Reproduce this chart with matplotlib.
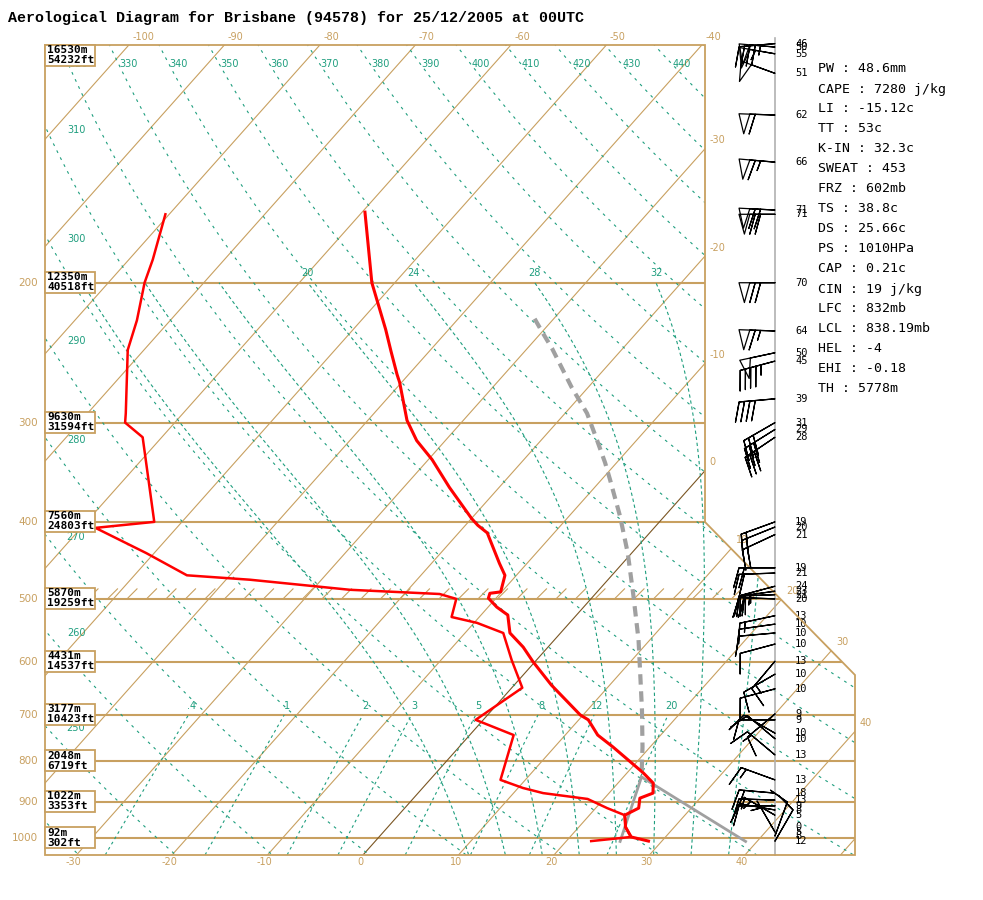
import numpy as np
import matplotlib
matplotlib.use("Agg")
import matplotlib.pyplot as plt
from matplotlib.transforms import Affine2D
from matplotlib.patches import Polygon, Rectangle
from matplotlib.path import Path

title = "Aerological Diagram for Brisbane (94578) for 25/12/2005 at 00UTC"

# sounding (hPa, degC)
temp_p = [163, 200, 229, 244, 261, 267, 298, 316, 334, 362, 396, 404, 413, 451, 467, 490, 492, 499,
          512, 524, 552, 575, 600, 642, 700, 710, 742, 768, 828, 853, 878, 891, 917, 936, 969, 997, 1009]
temp_t = [-59.7, -52.4, -46.6, -44.0, -41.2, -40.2, -35.9, -33.0, -29.6, -25.2, -20.0, -18.7, -17.0,
          -12.9, -11.2, -10.1, -11.1, -10.8, -9.1, -7.2, -5.3, -2.6, -0.2, 3.9, 9.7, 11.0, 13.4, 16.1,
          21.7, 23.7, 24.6, 23.7, 24.5, 23.7, 24.9, 26.4, 28.6]
dew_p = [164, 187, 200, 223, 243, 292, 300, 313, 400, 407, 438, 467, 473, 487, 493, 500, 527, 536,
         552, 597, 647, 710, 742, 845, 865, 878, 893, 917, 936, 969, 997, 1009]
dew_t = [-80.4, -77.5, -76.2, -73.5, -71.7, -66.0, -65.2, -62.0, -52.9, -58.5, -50.8, -44.5, -37.5,
         -26.1, -16.3, -14.1, -12.9, -9.7, -6.0, -2.6, 1.1, -0.8, 4.6, 7.4, 10.5, 13.1, 18.3, 21.2,
         23.7, 24.9, 26.4, 22.6]
parcel_p = [222, 231, 242, 271, 292, 316, 337, 354, 394, 438, 492, 563, 615, 690, 768, 838]
parcel_t = [-32.0, -29.9, -27.4, -21.7, -17.7, -14.1, -11.2, -9.1, -4.6, -0.4, 3.9, 8.8, 11.8,
            15.7, 19.2, 21.9]
sfc_p, sfc_t, sfc_td = 1010, 38.8, 25.66
lcl_p, lcl_t = 838, 21.9

levels = [100, 200, 300, 400, 500, 600, 700, 800, 900, 1000]
level_m = ["16530m", "12350m", "9630m", "7560m", "5870m", "4431m", "3177m", "2048m", "1022m", "92m"]
level_ft = ["54232ft", "40518ft", "31594ft", "24803ft", "19259ft", "14537ft", "10423ft", "6719ft",
            "3353ft", "302ft"]

isotherms = list(range(-140, 70, 10))
theta_vals = list(range(230, 470, 10))
thetaw_vals = [8, 12, 16, 20, 24, 28, 32, 36]
thetaw_labels = [20, 24, 28, 32]
mix_vals = [0.4, 1, 2, 3, 5, 8, 12, 20]
mix_labels = [".4", "1", "2", "3", "5", "8", "12", "20"]

wind_p = [100, 101, 103, 109, 123, 141, 162, 164, 200, 230, 245, 251, 280, 300, 306, 313, 400, 406,
          415, 457, 464, 482, 489, 494, 500, 525, 538, 552, 570, 599, 622, 649, 698, 710, 738, 750,
          786, 845, 878, 896, 911, 922, 936, 969, 983, 994, 1009]
wind_spd = [46, 50, 55, 51, 62, 66, 71, 71, 70, 64, 50, 45, 39, 31, 29, 28, 19, 20, 21, 19, 21, 24,
            23, 21, 20, 13, 10, 10, 10, 13, 10, 10, 9, 9, 10, 10, 13, 13, 18, 13, 9, 8, 5, 0, 5, 8, 12]
wind_dir = [265, 275, 280, 290, 272, 275, 273, 270, 270, 272, 258, 255, 265, 240, 238, 236, 250, 248,
            245, 270, 268, 255, 262, 268, 272, 258, 262, 265, 255, 220, 240, 255, 230, 270, 300, 310,
            310, 290, 275, 272, 270, 280, 300, 0, 330, 20, 30]

stats = ["PW : 48.6mm", "CAPE : 7280 j/kg", "LI : -15.12c", "TT : 53c", "K-IN : 32.3c",
         "SWEAT : 453", "FRZ : 602mb", "TS : 38.8c", "DS : 25.66c", "PS : 1010HPa", "CAP : 0.21c",
         "CIN : 19 j/kg", "LFC : 832mb", "LCL : 838.19mb", "HEL : -4", "EHI : -0.18", "TH : 5778m"]

TAN = "#C8A060"
DARK = "#7A5522"
TEAL = "#1E9E7E"
GREY = "#A0A0A0"
MONO = "DejaVu Sans Mono"

fig = plt.figure(figsize=(9.83, 9.0), dpi=100)
ax = fig.add_axes([0, 0, 1, 1])
ax.set_xlim(0, 983)
ax.set_ylim(900, 0)
ax.axis("off")

# skew-T: (T, ln(p/1000)) -> pixel
skew = Affine2D(np.array([[9.55, -307.05, 378.1], [0.0, 345.0, 838.0], [0.0, 0.0, 1.0]]))
tr = skew + ax.transData


def lp(p):
    return np.log(np.asarray(p, float) / 1000.0)


def px(t, p):
    t = np.atleast_1d(np.asarray(t, float))
    p = np.atleast_1d(np.asarray(p, float))
    return skew.transform(np.column_stack([t, lp(p)]))


frame = [(45, 45), (705, 45), (705, 522), (855, 675), (855, 855), (45, 855)]
clip = Polygon(frame, closed=True, fill=False, edgecolor=TAN, lw=1.3, zorder=5)
ax.add_patch(clip)
frame_path = Path(frame + [frame[0]])

# isobars
for p in levels[1:]:
    y = px(0, p)[0, 1]
    ax.plot([45, 855], [y, y], color=TAN, lw=1.5, clip_path=clip, zorder=2)

# isotherms
for t in isotherms:
    ax.plot([t, t], lp([1050, 100]), transform=tr, color=DARK if t == 0 else TAN,
            lw=0.8, clip_path=clip, zorder=2)

# dry adiabats
pp = np.linspace(100, 1050, 300)
for th in theta_vals:
    tt = th * (pp / 1000.0) ** 0.2857 - 273.15
    ax.plot(tt, lp(pp), transform=tr, color=TEAL, lw=0.8, dashes=(2.5, 4.5),
            clip_path=clip, zorder=2)
    xy = px(tt, pp)
    if th <= 310:
        if xy[:, 0].min() < 47 < xy[:, 0].max():
            yl = np.interp(47, xy[:, 0], xy[:, 1])
            if 80 < yl < 800:
                ax.text(76, yl, str(th), color=TEAL, fontsize=7, ha="center", va="center")
    elif th <= 440:
        p_lab = 1000 * np.exp((64 - 838) / 345.0)
        t_lab = th * (p_lab / 1000.0) ** 0.2857 - 273.15
        xl = px(t_lab, p_lab)[0, 0]
        ax.text(xl + 10, 64, str(th), color=TEAL, fontsize=7, ha="center", va="center")


# pseudo-adiabats
def dtdp(t, p):
    tk = t + 273.15
    es = 6.112 * np.exp(17.67 * t / (t + 243.5))
    rs = 0.622 * es / (p - es)
    return (287.04 * tk + 2.501e6 * rs) / (1005.7 + 2.501e6 ** 2 * rs * 0.622 / (287.04 * tk ** 2)) / p


def moist(t0, plist):
    out = [t0]
    t = t0
    for p0, p1 in zip(plist[:-1], plist[1:]):
        h = p1 - p0
        k1 = dtdp(t, p0)
        k2 = dtdp(t + 0.5 * h * k1, p0 + 0.5 * h)
        t = t + h * k2
        out.append(t)
    return np.array(out)


p_up = np.arange(1000, 199, -5.0)
p_dn = np.arange(1000, 1051, 5.0)
for tw in thetaw_vals:
    t_up = moist(tw + 0.9, p_up)
    t_dn = moist(tw + 0.9, p_dn)
    pm = np.concatenate([p_dn[::-1], p_up[1:]])
    tm = np.concatenate([t_dn[::-1], t_up[1:]])
    ax.plot(tm, lp(pm), transform=tr, color=TEAL, lw=0.8, dashes=(3, 2.5), clip_path=clip, zorder=2)
    if tw in thetaw_labels:
        xl, yl = px(t_up[-1], p_up[-1])[0]
        ax.text(xl, yl - 10, str(tw), color=TEAL, fontsize=7, ha="center", va="center")

# mixing ratio lines
pw = np.linspace(1050, 700, 40)
for w, lab in zip(mix_vals, mix_labels):
    e = w * pw / (622.0 + w)
    a = np.log(e / 6.112)
    td = 243.5 * a / (17.67 - a)
    ax.plot(td, lp(pw), transform=tr, color=TEAL, lw=0.8, dashes=(2.5, 3), clip_path=clip, zorder=2)
    xl, yl = px(td[-1], 700)[0]
    ax.text(xl + 3, yl - 9, lab, color=TEAL, fontsize=7, ha="center", va="center")

# hatching above 500 hPa
y500 = px(0, 500)[0, 1]
for x0 in np.arange(50, 760, 19.5):
    ax.plot([x0, x0 + 9], [y500 - 1, y500 - 10], color=TAN, lw=0.8, clip_path=clip, zorder=2)

# temperature labels
for t in range(-30, 50, 10):
    x = px(t, 1050)[0, 0]
    ax.text(x - 3, 862, str(t), color=TAN, fontsize=7, ha="center", va="center")
for t in range(-100, -30, 10):
    x = px(t, 100)[0, 0]
    ax.text(x + 2, 37, str(t), color=TAN, fontsize=7, ha="left", va="center")
ll = np.linspace(lp(1050), lp(100), 2000)
for t in range(-30, 50, 10):
    xy = skew.transform(np.column_stack([np.full_like(ll, t), ll]))
    inside = frame_path.contains_points(xy, radius=-0.5)
    if inside.any():
        xc, yc = xy[np.where(inside)[0][-1]]
        ax.text(xc + 5, yc - 9, str(t), color=TAN, fontsize=7, ha="left", va="center")

# pressure labels and height boxes
for p, m, ft in zip(levels, level_m, level_ft):
    y = px(0, p)[0, 1]
    if p != 100:
        ax.text(38, y, str(p), color=TAN, fontsize=7.5, ha="right", va="center")
        top = y - 11
    else:
        top = y + 1
    ax.add_patch(Rectangle((45, top), 50, 21, facecolor="white", edgecolor=TAN, lw=1.3, zorder=6))
    ax.text(47, top + 5.5, m, fontsize=8, family=MONO, weight="bold", va="center", zorder=7)
    ax.text(47, top + 15.5, ft, fontsize=8, family=MONO, weight="bold", va="center", zorder=7)

# parcel
ax.plot(parcel_t, lp(parcel_p), transform=tr, color=GREY, lw=3, dashes=(2.5, 1.6), zorder=3)
ax.plot([sfc_t, lcl_t], lp([sfc_p, lcl_p]), transform=tr, color=GREY, lw=2, zorder=3)
ax.plot([sfc_td, lcl_t], lp([sfc_p, lcl_p]), transform=tr, color=GREY, lw=2, zorder=3)

# sounding
ax.plot(dew_t, lp(dew_p), transform=tr, color="red", lw=1.8, zorder=4)
ax.plot(temp_t, lp(temp_p), transform=tr, color="red", lw=2.2, zorder=4)

# winds
ax.plot([775, 775], [38, 855], color="#B0B0B0", lw=1.2, zorder=2)
wy = px(np.zeros(len(wind_p)), wind_p)[:, 1]
d = np.radians(wind_dir)
spd = np.array(wind_spd, float)
u = -spd * np.sin(d)
v = -spd * np.cos(d)
ax.barbs(np.full(len(wind_p), 775.0), wy, u, v, length=7.2, flip_barb=True,
         sizes=dict(spacing=0.15, height=0.55, width=0.3, emptybarb=0.0),
         barbcolor="k", flagcolor="none", lw=0.9, zorder=5)
for y, s in zip(wy, wind_spd):
    ax.text(795, y, str(s), fontsize=7.5, family=MONO, ha="left", va="center")

# indices
for i, s in enumerate(stats):
    ax.text(818, 69 + 20 * i, s, fontsize=9.5, family=MONO, ha="left", va="center")

ax.text(8, 18, title, fontsize=10.8, family="Liberation Mono", weight="bold", ha="left", va="center")

fig.savefig("out.png", dpi=100, facecolor="white")
